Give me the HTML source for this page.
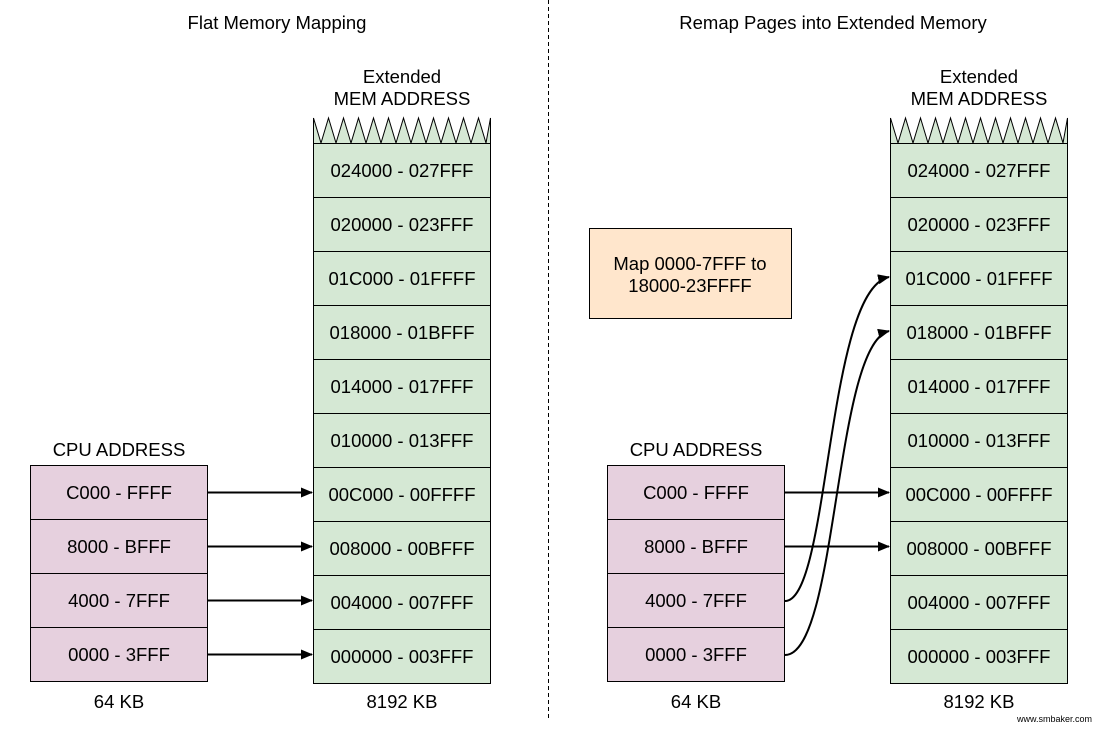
<!DOCTYPE html>
<html><head><style>
body{margin:0;background:#fff}
svg text{font-family:"Liberation Sans",Arial,sans-serif;fill:#000}
</style></head><body>
<svg width="1098" height="727" xmlns="http://www.w3.org/2000/svg">
<defs>
<marker id="a" markerWidth="12" markerHeight="10" refX="11" refY="5" orient="auto" markerUnits="userSpaceOnUse">
<path d="M0,0 L12,5 L0,10 Z" fill="#000"/></marker>
</defs>
<line x1="548.5" y1="0" x2="548.5" y2="720" stroke="#000" stroke-dasharray="4,3"/>
<text x="277" y="29" font-size="18.5" text-anchor="middle">Flat Memory Mapping</text>
<text x="833" y="29" font-size="18.5" text-anchor="middle">Remap Pages into Extended Memory</text>
<g id="mem">
<text x="402" y="83" font-size="18.5" text-anchor="middle">Extended</text>
<text x="402" y="105" font-size="18.5" text-anchor="middle">MEM ADDRESS</text>
<path d="M313.5,143 L313.5,118 L321,143 L328.5,118 L336,143 L343.5,118 L351,143 L358.5,118 L366,143 L373.5,118 L381,143 L388.5,118 L396,143 L403.5,118 L411,143 L418.5,118 L426,143 L433.5,118 L441,143 L448.5,118 L456,143 L463.5,118 L471,143 L478.5,118 L486,143 L490.5,118 L490.5,143" fill="#d5e8d4" stroke="#000"/>
<g fill="#d5e8d4" stroke="#000">
<rect x="313.5" y="143.5" width="177" height="54"/><rect x="313.5" y="197.5" width="177" height="54"/>
<rect x="313.5" y="251.5" width="177" height="54"/><rect x="313.5" y="305.5" width="177" height="54"/>
<rect x="313.5" y="359.5" width="177" height="54"/><rect x="313.5" y="413.5" width="177" height="54"/>
<rect x="313.5" y="467.5" width="177" height="54"/><rect x="313.5" y="521.5" width="177" height="54"/>
<rect x="313.5" y="575.5" width="177" height="54"/><rect x="313.5" y="629.5" width="177" height="54"/>
</g>
<g font-size="18.5" text-anchor="middle">
<text x="402" y="177">024000 - 027FFF</text><text x="402" y="231">020000 - 023FFF</text>
<text x="402" y="285">01C000 - 01FFFF</text><text x="402" y="339">018000 - 01BFFF</text>
<text x="402" y="393">014000 - 017FFF</text><text x="402" y="447">010000 - 013FFF</text>
<text x="402" y="501">00C000 - 00FFFF</text><text x="402" y="555">008000 - 00BFFF</text>
<text x="402" y="609">004000 - 007FFF</text><text x="402" y="663">000000 - 003FFF</text>
<text x="402" y="708">8192 KB</text>
</g>
</g>
<use href="#mem" x="577"/>
<g id="cpu">
<text x="119" y="456" font-size="18.5" text-anchor="middle">CPU ADDRESS</text>
<g fill="#e6d0de" stroke="#000">
<rect x="30.5" y="465.5" width="177" height="54"/><rect x="30.5" y="519.5" width="177" height="54"/>
<rect x="30.5" y="573.5" width="177" height="54"/><rect x="30.5" y="627.5" width="177" height="54"/>
</g>
<g font-size="18.5" text-anchor="middle">
<text x="119" y="499">C000 - FFFF</text><text x="119" y="553">8000 - BFFF</text>
<text x="119" y="607">4000 - 7FFF</text><text x="119" y="661">0000 - 3FFF</text>
<text x="119" y="708">64 KB</text>
</g>
</g>
<use href="#cpu" x="577"/>
<g stroke="#000" stroke-width="2" fill="none">
<line x1="208" y1="492.5" x2="312" y2="492.5" marker-end="url(#a)"/>
<line x1="208" y1="546.5" x2="312" y2="546.5" marker-end="url(#a)"/>
<line x1="208" y1="600.5" x2="312" y2="600.5" marker-end="url(#a)"/>
<line x1="208" y1="654.5" x2="312" y2="654.5" marker-end="url(#a)"/>
<line x1="785" y1="492.5" x2="889" y2="492.5" marker-end="url(#a)"/>
<line x1="785" y1="546.5" x2="889" y2="546.5" marker-end="url(#a)"/>
<path d="M785,601 C830,601 826,290 889,277" marker-end="url(#a)"/>
<path d="M785,655 C838,655 834,345 889,331" marker-end="url(#a)"/>
</g>
<rect x="589.5" y="228.5" width="202" height="90" fill="#ffe6cc" stroke="#000"/>
<text x="690" y="270" font-size="18.5" text-anchor="middle">Map 0000-7FFF to</text>
<text x="690" y="292" font-size="18.5" text-anchor="middle">18000-23FFFF</text>
<text x="1092" y="722" font-size="9" text-anchor="end">www.smbaker.com</text>
</svg>
</body></html>
